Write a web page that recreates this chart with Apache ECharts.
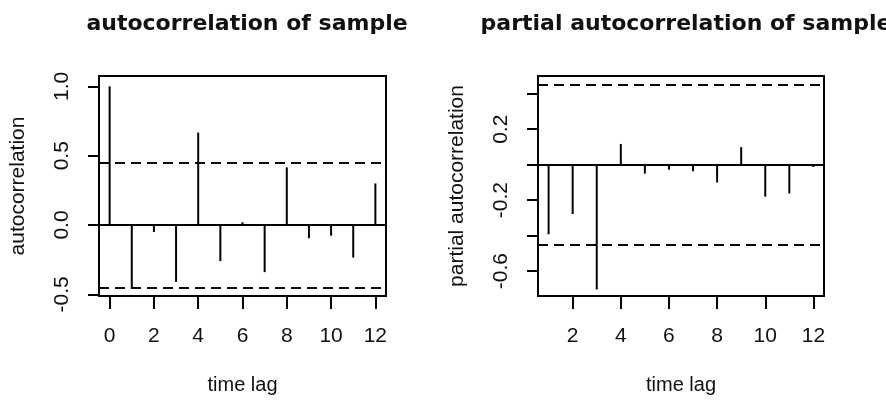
<!DOCTYPE html>
<html>
<head>
<meta charset="utf-8">
<script src="https://cdn.jsdelivr.net/npm/echarts@6/dist/echarts.min.js"></script>
<style>
  html, body { margin: 0; padding: 0; background: #fff; }
  #main { width: 886px; height: 400px; }
</style>
</head>
<body>
<div id="main"></div>
<script>
// sample ACF / PACF
const acfLags = [0, 1, 2, 3, 4, 5, 6, 7, 8, 9, 10, 11, 12];
const acfValues = [1.0, -0.46, -0.05, -0.41, 0.667, -0.26, 0.02, -0.34, 0.416, -0.095, -0.077, -0.235, 0.30];
const pacfLags = [1, 2, 3, 4, 5, 6, 7, 8, 9, 10, 11, 12];
const pacfValues = [-0.392, -0.278, -0.703, 0.117, -0.05, -0.028, -0.037, -0.10, 0.099, -0.18, -0.162, -0.013];
const confBound = 0.4497; // 1.96 / sqrt(19)

const acfXTicks = [0, 2, 4, 6, 8, 10, 12];
const pacfXTicks = [2, 4, 6, 8, 10, 12];
const acfYTicks = [-0.5, 0, 0.5, 1.0];
const pacfYTicks = [-0.6, -0.4, -0.2, 0, 0.2, 0.4];
const pacfYLabels = [-0.6, -0.2, 0.2];

const titles = ['autocorrelation of sample', 'partial autocorrelation of sample'];

const chart = echarts.init(document.getElementById('main'));

const textColor = '#111';
const labelFont = { color: textColor, fontSize: 20, fontFamily: 'Liberation Sans, Arial, sans-serif' };

function pairs(xs, ys) {
  return xs.map((x, i) => [x, ys[i]]);
}

function xAxisOf(gridIndex, min, max, ticks) {
  return {
    type: 'value', gridIndex, min, max,
    splitLine: { show: false },
    axisLine: { show: false, onZero: false },
    axisTick: { show: true, length: 13, customValues: ticks, lineStyle: { color: '#000', width: 2 } },
    axisLabel: Object.assign({ margin: 30, customValues: ticks, formatter: v => String(v) }, labelFont, { fontSize: 21 }),
    name: 'time lag', nameLocation: 'middle', nameGap: 79,
    nameTextStyle: labelFont
  };
}

function yAxisOf(gridIndex, min, max, ticks, labels, name) {
  return {
    type: 'value', gridIndex, min, max,
    splitLine: { show: false },
    axisLine: { show: false, onZero: false },
    axisTick: { show: true, length: 11, customValues: ticks, lineStyle: { color: '#000', width: 2 } },
    axisLabel: Object.assign({ margin: 26, rotate: 90, customValues: labels, formatter: v => v.toFixed(1) }, labelFont, { fontSize: 21 }),
    name, nameLocation: 'middle', nameGap: 70,
    nameTextStyle: Object.assign({}, labelFont, { fontSize: 21 })
  };
}

function spikes(xIndex, data) {
  return {
    type: 'bar', xAxisIndex: xIndex, yAxisIndex: xIndex,
    data, barWidth: 2,
    itemStyle: { color: '#000' },
    silent: true,
    markLine: {
      silent: true, symbol: 'none', label: { show: false },
      data: [
        { yAxis: 0, lineStyle: { type: 'solid', color: '#000', width: 2 } },
        { yAxis: confBound, lineStyle: { type: [10, 6], color: '#000', width: 2 } },
        { yAxis: -confBound, lineStyle: { type: [10, 6], color: '#000', width: 2 } }
      ]
    }
  };
}

const option = {
  backgroundColor: '#fff',
  animation: false,
  title: [
    { text: titles[0], left: 242, top: 8, textAlign: 'center',
      textStyle: { fontSize: 22, fontWeight: 'bold', color: textColor, fontFamily: 'DejaVu Sans' } },
    { text: titles[1], left: 681, top: 8, textAlign: 'center',
      textStyle: { fontSize: 22, fontWeight: 'bold', color: textColor, fontFamily: 'DejaVu Sans' } }
  ],
  grid: [
    { left: 99, top: 76, width: 287, height: 222, show: true, borderColor: '#000', borderWidth: 2 },
    { left: 538, top: 76, width: 286, height: 222, show: true, borderColor: '#000', borderWidth: 2 }
  ],
  xAxis: [
    xAxisOf(0, -0.48, 12.48, acfXTicks),
    xAxisOf(1, 0.56, 12.44, pacfXTicks)
  ],
  yAxis: [
    yAxisOf(0, -0.512, 1.075, acfYTicks, acfYTicks, 'autocorrelation'),
    yAxisOf(1, -0.74, 0.5, pacfYTicks, pacfYLabels, 'partial autocorrelation')
  ],
  series: [
    spikes(0, pairs(acfLags, acfValues)),
    spikes(1, pairs(pacfLags, pacfValues))
  ]
};

chart.setOption(option);
</script>
</body>
</html>
